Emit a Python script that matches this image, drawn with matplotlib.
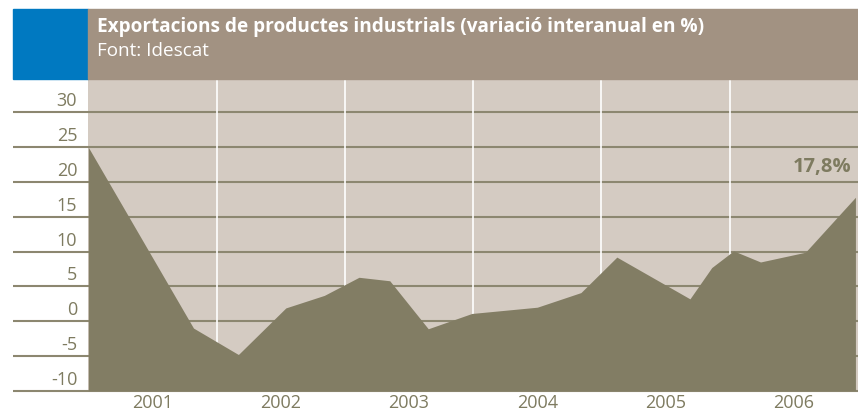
import matplotlib.pyplot as plt
import matplotlib.transforms as mtransforms
from matplotlib.patches import Rectangle

plt.rcParams['font.family'] = ['Open Sans', 'DejaVu Sans']

# dades llegides del grafic (any decimal, variacio interanual %)
temps = [2001.00, 2001.82, 2002.17, 2002.54, 2002.84, 2003.11, 2003.35,
         2003.65, 2003.99, 2004.50, 2004.84, 2005.12, 2005.69, 2005.86,
         2006.03, 2006.24, 2006.59, 2006.98]
variacio = [25.0, -1.0, -4.8, 1.9, 3.7, 6.3, 5.8, -1.1, 1.1, 2.0, 4.1,
            9.2, 3.2, 7.7, 10.1, 8.5, 9.9, 17.8]
anys = [2001, 2002, 2003, 2004, 2005, 2006]
valors_y = [-10, -5, 0, 5, 10, 15, 20, 25, 30]

titol = "Exportacions de productes industrials (variació interanual en %)"
font = "Font: Idescat"
etiqueta_final = "17,8%"

c_blau = "#0079c1"
c_capcal = "#a29282"
c_fons = "#d4cbc2"
c_area = "#827d64"
c_linia = "#8c8770"
c_text = "#7e7b60"

W, H = 858, 414
fig = plt.figure(figsize=(W / 100, H / 100), dpi=100)

# capcalera
fig.patches.append(Rectangle((13 / W, 1 - 80 / H), 75 / W, 70 / H,
                             transform=fig.transFigure, color=c_blau, zorder=0))
fig.patches.append(Rectangle((88 / W, 1 - 80 / H), (W - 88) / W, 70 / H,
                             transform=fig.transFigure, color=c_capcal, zorder=0))
fig.text(97 / W, 1 - 27 / H, titol, color="white", fontsize=13.7, fontweight="bold",
         ha="left", va="center")
fig.text(97 / W, 1 - 51 / H, font, color="white", fontsize=13.6,
         ha="left", va="center")

ax = fig.add_axes([88.3 / W, 22.3 / H, (W - 88.3) / W, (334 - 22.3) / H])
ax.set_facecolor(c_fons)
ax.set_xlim(anys[0], anys[-1] + 1)
ax.set_ylim(-10, 34.8)

trans = mtransforms.blended_transform_factory(ax.transAxes, ax.transData)
ax.hlines(valors_y, -75.3 / 769.7, 1, transform=trans, colors=c_linia,
          linewidth=1.5, clip_on=False, zorder=1)
for a in anys[1:]:
    ax.axvline(a, color="white", linewidth=1.2, zorder=1)

ax.fill_between(temps, -10, variacio, color=c_area, linewidth=0, zorder=2)

ax.text(temps[-1] - 0.03, 22.3, etiqueta_final, color=c_text, fontsize=14.5,
        fontweight="bold", ha="right", va="center", zorder=3)

for s in ax.spines.values():
    s.set_visible(False)

ax.set_yticks(valors_y)
ax.set_yticklabels([str(v) for v in valors_y])
ax.tick_params(axis="y", length=0, pad=8, labelsize=13, labelcolor=c_text)
offset = mtransforms.ScaledTranslation(0, 14 / 100, fig.dpi_scale_trans)
for lbl in ax.get_yticklabels():
    lbl.set_transform(lbl.get_transform() + offset)

ax.set_xticks([a + 0.5 for a in anys])
ax.set_xticklabels([str(a) for a in anys])
ax.tick_params(axis="x", length=0, pad=2, labelsize=13, labelcolor=c_text)

fig.savefig("out.png", dpi=100)
